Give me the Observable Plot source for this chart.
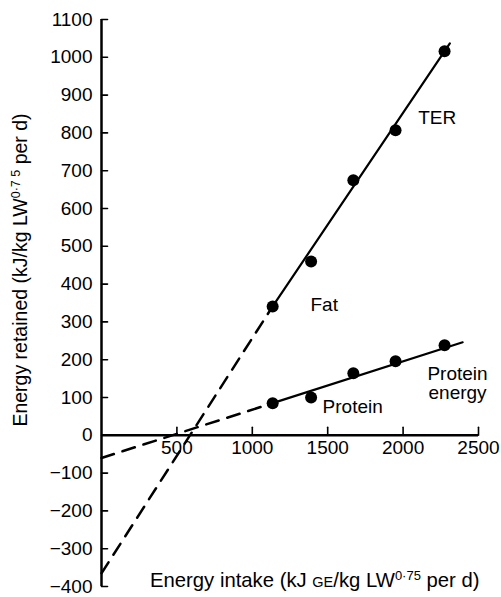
<!DOCTYPE html>
<html><head><meta charset="utf-8">
<script src="https://cdn.jsdelivr.net/npm/d3@7"></script>
<script src="https://cdn.jsdelivr.net/npm/@observablehq/plot@0.6"></script>
<style>body{margin:0;background:#fff} svg{display:block}</style>
</head><body><div id="chart"></div>
<script>
// Observed points (energy intake, kJ GE/kg LW^0.75 per d)
const intake = [1135, 1390, 1670, 1950, 2275];
const terRetained = [341, 460, 675, 807, 1016];
const proteinRetained = [85, 100, 164, 196, 238];
// Fitted lines as drawn: dashed extrapolation from the y axis to the first point, solid beyond
const terLineX = [0, 1135, 2310];
const terLineY = [-365, 341, 1037];
const proteinLineX = [0, 1135, 2395];
const proteinLineY = [-60, 85, 246];
// Axis ticks
const xTicks = [500, 1000, 1500, 2000, 2500];
const yTicks = [-400, -300, -200, -100, 0, 100, 200, 300, 400, 500, 600, 700, 800, 900, 1000, 1100];
// Annotations
const labelText = ["TER", "Fat", "Protein"];
const labelX = [2100, 1386, 1466];
const labelY = [840, 346, 76];
const energyLabelText = ["Protein\nenergy"];
const energyLabelX = [2361];
const energyLabelY = [137];

const font = "'Liberation Sans', Arial, Helvetica, sans-serif";
const pts = intake.map((x, i) => ({x, ter: terRetained[i], prot: proteinRetained[i]}));
const seg = (xs, ys, a, b) => xs.slice(a, b).map((x, i) => ({x, y: ys[a + i]}));
const tickShape = {draw(context, l) { context.moveTo(0, 0); context.lineTo(0, -l); }};
const fmt = d => d < 0 ? "\u2212" + Math.abs(d) : String(d);

const plot = Plot.plot({
  width: 501, height: 597,
  marginLeft: 101, marginRight: 23, marginTop: 19, marginBottom: 11,
  x: {domain: [0, 2500], axis: null},
  y: {domain: [-400, 1100], axis: null},
  style: {fontFamily: font, fontSize: "19px", background: "#fff", color: "#000"},
  marks: [
    Plot.ruleX([0], {stroke: "#000", strokeWidth: 2.5}),
    Plot.ruleY([0], {stroke: "#000", strokeWidth: 2.5}),
    Plot.vector(yTicks, {x: 0, y: d => d, length: 6, rotate: 90, anchor: "start", shape: tickShape, stroke: "#000", strokeWidth: 1.6}),
    Plot.vector(xTicks, {x: d => d, y: 0, length: 8, rotate: 0, anchor: "start", shape: tickShape, stroke: "#000", strokeWidth: 1.6}),
    Plot.text(yTicks, {x: 0, y: d => d, text: fmt, textAnchor: "end", dx: -9, fontSize: 19, fill: "#000"}),
    Plot.text(xTicks, {x: d => d, y: 0, text: fmt, dy: 13, fontSize: 19, fill: "#000"}),
    Plot.line(seg(terLineX, terLineY, 0, 2), {x: "x", y: "y", stroke: "#000", strokeWidth: 2.5, strokeDasharray: "13,9"}),
    Plot.line(seg(terLineX, terLineY, 1, 3), {x: "x", y: "y", stroke: "#000", strokeWidth: 2.2}),
    Plot.line(seg(proteinLineX, proteinLineY, 0, 2), {x: "x", y: "y", stroke: "#000", strokeWidth: 2.5, strokeDasharray: "13,9"}),
    Plot.line(seg(proteinLineX, proteinLineY, 1, 3), {x: "x", y: "y", stroke: "#000", strokeWidth: 2.2}),
    Plot.dot(pts, {x: "x", y: "ter", r: 6, fill: "#000", stroke: "none"}),
    Plot.dot(pts, {x: "x", y: "prot", r: 6, fill: "#000", stroke: "none"}),
    Plot.text(labelText, {x: (d, i) => labelX[i], y: (d, i) => labelY[i], text: d => d, textAnchor: "start", fontSize: 19, fill: "#000"}),
    Plot.text(energyLabelText, {x: (d, i) => energyLabelX[i], y: (d, i) => energyLabelY[i], text: d => d, textAnchor: "middle", lineHeight: 1, fontSize: 19, fill: "#000"})
  ]
});

const svg = d3.select(plot);
// x-axis title
const xt = svg.append("text").attr("x", 150).attr("y", 587).attr("text-anchor", "start")
  .attr("font-family", font).attr("font-size", 20.3).attr("fill", "#000");
xt.append("tspan").text("Energy intake (kJ ");
xt.append("tspan").attr("font-size", 14.5).text("GE");
xt.append("tspan").text("/kg LW");
xt.append("tspan").attr("font-size", 13).attr("dy", -7).text("0\u00B775");
xt.append("tspan").attr("dy", 7).text(" per d)");
// y-axis title
const yt = svg.append("text").attr("transform", "translate(27,270) rotate(-90)").attr("text-anchor", "middle")
  .attr("font-family", font).attr("font-size", 19.5).attr("fill", "#000");
yt.append("tspan").text("Energy retained (kJ/kg LW");
yt.append("tspan").attr("font-size", 12.5).attr("dy", -7).text("0\u00B77 5");
yt.append("tspan").attr("dy", 7).text(" per d)");

document.getElementById("chart").appendChild(plot);
</script>
</body></html>
